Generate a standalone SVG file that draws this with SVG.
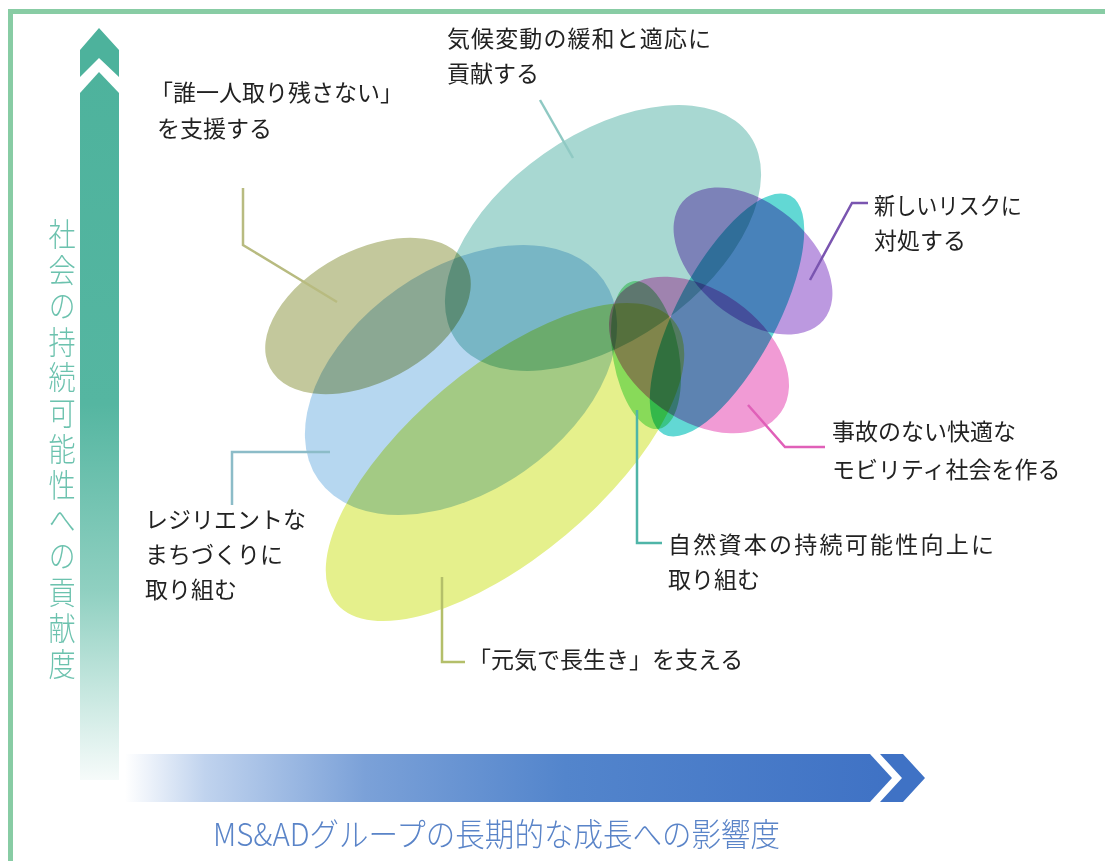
<svg xmlns="http://www.w3.org/2000/svg" width="1105" height="861" viewBox="0 0 1105 861">
<defs>
<linearGradient id="gV" gradientUnits="userSpaceOnUse" x1="0" y1="28" x2="0" y2="780">
<stop offset="0" stop-color="#4db29c"/>
<stop offset="0.5" stop-color="#55b6a1"/>
<stop offset="0.75" stop-color="#90d0c1"/>
<stop offset="1" stop-color="#f6fbfa"/>
</linearGradient>
<linearGradient id="gH" gradientUnits="userSpaceOnUse" x1="125" y1="0" x2="925" y2="0">
<stop offset="0" stop-color="#ffffff"/>
<stop offset="0.1" stop-color="#c0d3ee"/>
<stop offset="0.3" stop-color="#7ba1d8"/>
<stop offset="0.55" stop-color="#5385cc"/>
<stop offset="1" stop-color="#3d70c4"/>
</linearGradient>
<style>
.e{mix-blend-mode:multiply}
.t{font-family:"Noto Sans CJK JP","Noto Sans",sans-serif;font-size:23px;fill:#222}
.l{fill:none;stroke-width:2.5}
</style>
</defs>
<rect x="0" y="0" width="1105" height="861" fill="#ffffff"/>
<g id="frame" fill="#88cca4">
<rect x="8" y="9" width="1097" height="5"/>
<rect x="8" y="9" width="5" height="852"/>
</g>
<g id="axis-y">
<polygon points="80,50 99,28 119,50 119,77 99,58 80,77" fill="#4db29c"/>
<polygon points="80,93 99,72 119,93 119,780 80,780" fill="url(#gV)"/>
<text transform="scale(0.85,1)" x="73" y="218" style="writing-mode:vertical-rl;font-family:'Noto Sans CJK JP',sans-serif;font-size:32px;font-weight:300;letter-spacing:3.8px;fill:#6cc2ae">社会の持続可能性への貢献度</text>
</g>
<g id="axis-x">
<polygon points="125,754 870,754 892,778 870,802 125,802" fill="url(#gH)"/>
<polygon points="880,754 903,754 925,778 903,802 880,802 902,778" fill="#3f72c5"/>
<text x="213" y="846" textLength="567" lengthAdjust="spacingAndGlyphs" style="font-family:'Noto Sans CJK JP',sans-serif;font-size:32px;font-weight:300;fill:#5a84c8">MS&amp;ADグループの長期的な成長への影響度</text>
</g>
<g id="ellipses">
<ellipse id="e-olive" class="e" cx="368" cy="316" rx="111" ry="66" transform="rotate(-28 368 316)" fill="#c3c89c"/>
<ellipse id="e-blue" class="e" cx="461" cy="380" rx="174" ry="111" transform="rotate(-35 461 380)" fill="#b6d7f0"/>
<ellipse id="e-yellow" class="e" cx="505" cy="462" rx="220" ry="95" transform="rotate(-40 505 462)" fill="#e5f08c"/>
<ellipse id="e-teal" class="e" cx="603" cy="238" rx="179" ry="103" transform="rotate(-35 603 238)" fill="#a8d8d2"/>
<ellipse id="e-cyan" class="e" cx="727" cy="315" rx="135" ry="50" transform="rotate(-62 727 315)" fill="#62d8d4"/>
<ellipse id="e-purple" class="e" cx="753" cy="261" rx="92" ry="57" transform="rotate(40 753 261)" fill="#bc99e0"/>
<ellipse id="e-pink" class="e" cx="699" cy="355" rx="100" ry="65" transform="rotate(35 699 355)" fill="#f19bd5"/>
<ellipse id="e-green" class="e" cx="646" cy="355" rx="33" ry="75" transform="rotate(-10 646 355)" fill="#5fdc70" fill-opacity="0.65"/>
</g>
<g id="connectors">
<polyline class="l" points="243,188 243,245 337,302" stroke="#b8bb80"/>
<polyline class="l" points="540,100 573,158" stroke="#8fc9c3"/>
<polyline class="l" points="868,203 852,203 810,280" stroke="#7a55b0"/>
<polyline class="l" points="748,405 785,447 825,447" stroke="#e060b8"/>
<polyline class="l" points="637,410 637,543 662,543" stroke="#4fb5a8"/>
<polyline class="l" points="442,577 442,662 465,662" stroke="#b4bf6a"/>
<polyline class="l" points="232,505 232,452 330,452" stroke="#8cbcc8"/>
</g>
<g id="node-dareHitori">
<text class="t" x="150" y="101">「誰一人取り残さない」</text>
<text class="t" x="157" y="137">を支援する</text>
</g>
<g id="node-kikou">
<text class="t" x="447" y="47" textLength="264">気候変動の緩和と適応に</text>
<text class="t" x="447" y="82">貢献する</text>
</g>
<g id="node-risk">
<text class="t" x="874" y="214" textLength="148" lengthAdjust="spacingAndGlyphs">新しいリスクに</text>
<text class="t" x="874" y="249">対処する</text>
</g>
<g id="node-mobility">
<text class="t" x="832" y="440">事故のない快適な</text>
<text class="t" x="832" y="478">モビリティ社会を作る</text>
</g>
<g id="node-shizen">
<text class="t" x="668" y="553" textLength="326">自然資本の持続可能性向上に</text>
<text class="t" x="668" y="588">取り組む</text>
</g>
<g id="node-resilient">
<text class="t" x="145" y="528">レジリエントな</text>
<text class="t" x="145" y="563">まちづくりに</text>
<text class="t" x="145" y="598">取り組む</text>
</g>
<g id="node-genki">
<text class="t" x="468" y="668">「元気で長生き」を支える</text>
</g>
</svg>
